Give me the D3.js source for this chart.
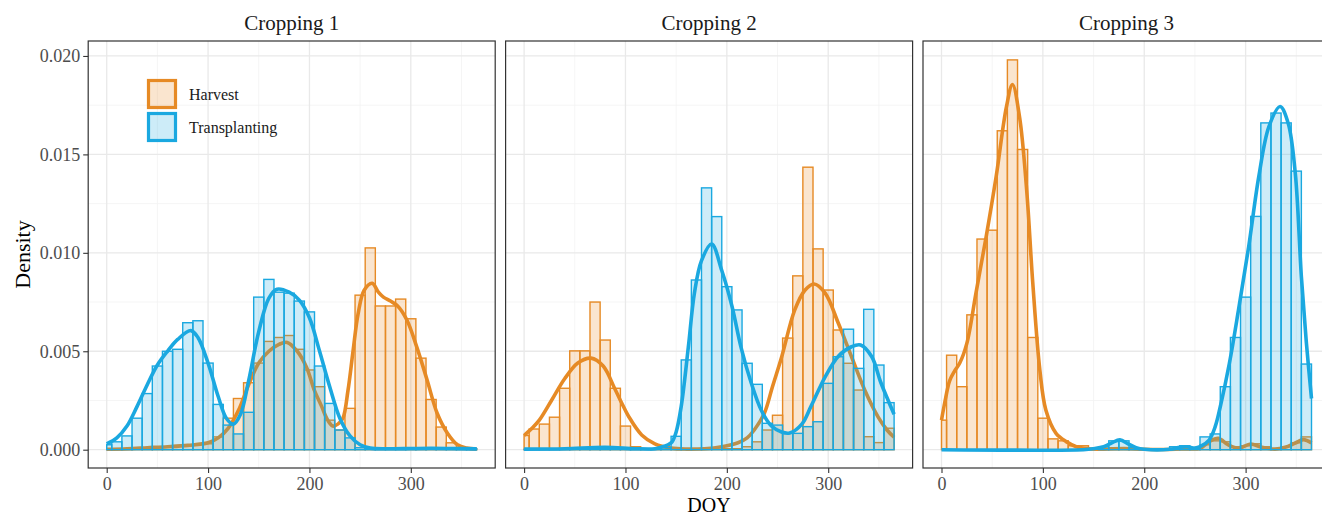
<!DOCTYPE html>
<html>
<head>
<meta charset="utf-8">
<script src="https://cdn.jsdelivr.net/npm/d3@7"></script>
<style>
  body { margin: 0; background: #fff; }
  svg { display: block; font-family: "Liberation Serif", "DejaVu Serif", serif; }
</style>
</head>
<body>
<div id="chart"></div>
<script>
/* DATA */

const panels = ["Cropping 1", "Cropping 2", "Cropping 3"];
const seriesNames = ["Harvest", "Transplanting"];
const xTicks = [0, 100, 200, 300];
const xMinor = [50, 150, 250, 350];
const yTicks = [0, 0.005, 0.010, 0.015, 0.020];
const yMinor = [0.0025, 0.0075, 0.0125, 0.0175];

// centre of each 10-day bin (first one is cut at 0, last at 365)
const binMid = [0, 10, 20, 30, 40, 50, 60, 70, 80, 90, 100, 110, 120, 130, 140, 150, 160, 170, 180,
                190, 200, 210, 220, 230, 240, 250, 260, 270, 280, 290, 300, 310, 320, 330, 340, 350, 360];

// histogram densities, one per bin
const harvest1 = [0.00002, 0.00005, 0.00005, 0.0001, 0.0001, 0.00015, 0.00015, 0.0002, 0.0002, 0.0003,
                  0.0003, 0.00065, 0.0016, 0.0026, 0.0034, 0.0044, 0.0055, 0.0057, 0.0058, 0.0051,
                  0.00405, 0.0032, 0.0015, 0.001, 0.0021, 0.00785, 0.01025, 0.0073, 0.0073, 0.00765,
                  0.00665, 0.00465, 0.00255, 0.00115, 0.00035, 0.0001, 0.00005];
const transplant1 = [0.00025, 0.0004, 0.0007, 0.0016, 0.00285, 0.00425, 0.005, 0.0051, 0.00645, 0.00655,
                     0.0044, 0.0023, 0.00125, 0.0008, 0.0019, 0.00775, 0.00865, 0.008, 0.00795, 0.00755,
                     0.007, 0.00425, 0.00235, 0.001, 0.0006, 0.0001, 0.00005, 0.00005, 0.00005, 0.00005,
                     0.00005, 0.00005, 0.00005, 0.00005, 0.00005, 0.00005, 0.00005];
const harvest2 = [0.00072, 0.00105, 0.0013, 0.00165, 0.00312, 0.00502, 0.00502, 0.0075, 0.00557, 0.00312,
                  0.0012, 0.00015, 0.00005, 0.00005, 0.00002, 0.00002, 0.00002, 0.00002, 0.00002, 0.00002,
                  0.00005, 0.00005, 0.00015, 0.0004, 0.001, 0.00175, 0.00567, 0.00883, 0.01435, 0.0102,
                  0.00811, 0.00608, 0.00439, 0.00303, 0.00066, 0.00036, 0.00109];
const transplant2 = [0.00002, 0.00002, 0.00002, 0.00002, 0.00002, 0.00005, 0.00005, 0.0001, 0.0001, 0.00005,
                     0.00005, 0.00002, 0.00002, 0.00005, 0.0001, 0.00068, 0.00456, 0.00862, 0.0133, 0.01184,
                     0.00828, 0.0071, 0.00439, 0.00332, 0.00134, 0.00125, 0.00083, 0.00083, 0.00117, 0.00142,
                     0.00337, 0.00472, 0.00612, 0.00413, 0.00713, 0.0043, 0.00239];
const harvest3 = [0.0015, 0.0048, 0.0032, 0.00685, 0.0107, 0.01115, 0.0162, 0.0198, 0.01525, 0.0057,
                  0.0016, 0.00055, 0.00045, 0.0002, 0.0002, 0.00002, 0.00005, 0.0001, 0.0001, 0.00002,
                  0, 0, 0, 0.00005, 0.00005, 0.00002, 0.00025, 0.00045, 0.0004, 0.00015,
                  0.0002, 0.0003, 0.00015, 0.00005, 0.00015, 0.00035, 0.00065];
const transplant3 = [0, 0, 0, 0, 0, 0, 0, 0, 0, 0,
                     0, 0, 0, 0, 0, 0, 0.00015, 0.00045, 0.00045, 0.0001,
                     0, 0, 0.00005, 0.00015, 0.0002, 0.0001, 0.00065, 0.0008, 0.0032, 0.0057,
                     0.00775, 0.01185, 0.0166, 0.0171, 0.0166, 0.01415, 0.00435];

// density curves: [DOY, density]
const harvestCurve1 = [[0, 0.00002], [20, 0.00005], [40, 0.0001], [60, 0.00015], [80, 0.00022], [100, 0.00035],
  [110, 0.0006], [120, 0.0011], [130, 0.002], [140, 0.0033], [150, 0.0044], [160, 0.005], [170, 0.00535],
  [178, 0.00545], [188, 0.005], [197, 0.0042], [205, 0.003], [212, 0.0022], [218, 0.0015], [223, 0.0012],
  [228, 0.0013], [233, 0.0016], [238, 0.003], [243, 0.005], [248, 0.0069], [254, 0.0081], [262, 0.00845],
  [268, 0.008], [273, 0.00775], [280, 0.00755], [287, 0.0073], [296, 0.0066], [306, 0.0052], [316, 0.00355],
  [326, 0.00185], [336, 0.00085], [346, 0.00025], [355, 0.00008], [365, 0.00003]];
const transplantCurve1 = [[0, 0.0003], [10, 0.0006], [20, 0.0012], [30, 0.0022], [40, 0.0033], [50, 0.0043],
  [60, 0.005], [70, 0.0056], [83, 0.00605], [90, 0.0057], [100, 0.0044], [110, 0.0027], [118, 0.0016],
  [125, 0.0013], [132, 0.0018], [140, 0.0035], [150, 0.006], [160, 0.0077], [168, 0.00815], [180, 0.008],
  [190, 0.0076], [200, 0.0067], [210, 0.005], [220, 0.0032], [230, 0.0016], [240, 0.0007], [250, 0.00025],
  [260, 0.00008], [280, 0.00005], [300, 0.00006], [320, 0.00007], [340, 0.00006], [365, 0.00004]];
const harvestCurve2 = [[0, 0.00072], [8, 0.0011], [15, 0.0015], [27, 0.0025], [40, 0.0036], [53, 0.0044],
  [66, 0.00465], [78, 0.00425], [89, 0.00315], [96, 0.0024], [103, 0.0017], [116, 0.00075], [129, 0.0003],
  [145, 0.00008], [160, 0.00003], [178, 0.00005], [195, 0.00015], [211, 0.00035], [220, 0.0006], [227, 0.001],
  [237, 0.00185], [245, 0.0032], [254, 0.0047], [267, 0.0071], [277, 0.0081], [286, 0.00842], [297, 0.00795],
  [310, 0.00642], [323, 0.00472], [336, 0.00303], [349, 0.00168], [358, 0.001], [365, 0.00063]];
const transplantCurve2 = [[0, 0.00003], [40, 0.00005], [80, 0.00012], [110, 0.00005], [129, 0.00005],
  [135, 0.00012], [142, 0.00025], [146, 0.0004], [150, 0.0009], [155, 0.0022], [162, 0.0052], [168, 0.00795],
  [175, 0.0096], [185, 0.01045], [195, 0.0091], [205, 0.0073], [214, 0.0052], [224, 0.0034], [234, 0.002],
  [244, 0.0012], [254, 0.0009], [262, 0.00085], [274, 0.0013], [283, 0.0022], [297, 0.0037], [310, 0.00475],
  [323, 0.00523], [332, 0.00532], [343, 0.00472], [352, 0.0034], [365, 0.0018]];
const harvestCurve3 = [[0, 0.0015], [4, 0.0026], [8, 0.0035], [13, 0.004], [18, 0.0044], [25, 0.0054],
  [34, 0.00795], [44, 0.0108], [54, 0.0139], [64, 0.0174], [70, 0.01855], [77, 0.0169], [84, 0.0132],
  [90, 0.0085], [97, 0.00405], [103, 0.002], [113, 0.00083], [123, 0.00041], [133, 0.00015], [145, 0.00005],
  [160, 0.00003], [180, 0.00006], [200, 0.00002], [220, 0.00001], [240, 0.00004], [255, 0.00007],
  [264, 0.00041], [273, 0.00058], [283, 0.00024], [293, 0.00007], [305, 0.00029], [316, 0.00012],
  [329, 0.00003], [339, 0.00012], [349, 0.00034], [357, 0.00051], [365, 0.00034]];
const transplantCurve3 = [[0, 0], [140, 0], [150, 0.00005], [160, 0.00015], [168, 0.00035], [176, 0.0005],
  [184, 0.0003], [192, 0.0001], [200, 0.00002], [225, 0.00002], [235, 0.00012], [242, 0.00015], [250, 0.00008],
  [255, 0.00015], [264, 0.00049], [270, 0.00117], [275, 0.00218], [284, 0.00439], [293, 0.0071], [303, 0.0103],
  [313, 0.01387], [323, 0.01641], [334, 0.01743], [342, 0.01658], [349, 0.01404], [355, 0.00879], [360, 0.0054],
  [365, 0.0026]];

const harvestBins = [harvest1, harvest2, harvest3];
const transplantBins = [transplant1, transplant2, transplant3];
const harvestCurves = [harvestCurve1, harvestCurve2, harvestCurve3];
const transplantCurves = [transplantCurve1, transplantCurve2, transplantCurve3];

/* CHART */

const width = 1322;
const height = 516;
const colors = { Harvest: "#E68A25", Transplanting: "#1AA8E0" };
const fillOpacity = 0.22;

const panelTop = 41, panelBottom = 468, panelW = 407, firstLeft = 88.2, step = 417.4;

const svg = d3.select("#chart")
    .append("svg")
    .attr("width", width)
    .attr("height", height);

const y = d3.scaleLinear()
    .domain([-0.00093, 0.02076])
    .range([panelBottom, panelTop]);

panels.forEach((name, i) => {
    const left = firstLeft + i * step;
    const x = d3.scaleLinear()
        .domain([-18.25, 383.25])
        .range([left, left + panelW]);

    const g = svg.append("g").attr("class", "panel");

    // grade menor e maior
    g.selectAll(".gx-minor").data(xMinor).join("line")
        .attr("x1", d => x(d)).attr("x2", d => x(d))
        .attr("y1", panelTop).attr("y2", panelBottom)
        .attr("stroke", "#f2f2f2").attr("stroke-width", 0.8);
    g.selectAll(".gy-minor").data(yMinor).join("line")
        .attr("x1", left).attr("x2", left + panelW)
        .attr("y1", d => y(d)).attr("y2", d => y(d))
        .attr("stroke", "#f2f2f2").attr("stroke-width", 0.8);
    g.selectAll(".gx").data(xTicks).join("line")
        .attr("x1", d => x(d)).attr("x2", d => x(d))
        .attr("y1", panelTop).attr("y2", panelBottom)
        .attr("stroke", "#e9e9e9").attr("stroke-width", 1.3);
    g.selectAll(".gy").data(yTicks).join("line")
        .attr("x1", left).attr("x2", left + panelW)
        .attr("y1", d => y(d)).attr("y2", d => y(d))
        .attr("stroke", "#e9e9e9").attr("stroke-width", 1.3);

    const line = d3.line()
        .x(d => x(d[0]))
        .y(d => y(d[1]))
        .curve(d3.curveCatmullRom.alpha(0.5));

    const layers = [
        { key: "Harvest", bins: harvestBins[i], curve: harvestCurves[i] },
        { key: "Transplanting", bins: transplantBins[i], curve: transplantCurves[i] }
    ];

    layers.forEach(layer => {
        const bars = binMid.map((m, k) => ({
            x0: Math.max(0, m - 5),
            x1: Math.min(365, m + 5),
            value: layer.bins[k]
        }));

        g.append("g").selectAll("rect")
            .data(bars)
            .join("rect")
            .attr("x", d => x(d.x0))
            .attr("y", d => y(d.value))
            .attr("width", d => x(d.x1) - x(d.x0))
            .attr("height", d => y(0) - y(d.value))
            .attr("fill", colors[layer.key])
            .attr("fill-opacity", fillOpacity)
            .attr("stroke", colors[layer.key])
            .attr("stroke-width", 1.4);

        g.append("path")
            .datum(layer.curve)
            .attr("d", line)
            .attr("fill", "none")
            .attr("stroke", colors[layer.key])
            .attr("stroke-width", 3.6)
            .attr("stroke-linejoin", "round");
    });

    // borda do painel
    g.append("rect")
        .attr("x", left).attr("y", panelTop)
        .attr("width", panelW).attr("height", panelBottom - panelTop)
        .attr("fill", "none")
        .attr("stroke", "#333333")
        .attr("stroke-width", 1.2);

    // eixo X
    const xAxis = svg.append("g")
        .attr("transform", `translate(0,${panelBottom})`)
        .call(d3.axisBottom(x).tickValues(xTicks).tickSize(5).tickPadding(4).tickFormat(d3.format("d")));
    xAxis.select(".domain").remove();
    xAxis.selectAll("line").attr("stroke", "#333333").attr("stroke-width", 1.1);
    xAxis.selectAll("text")
        .attr("fill", "#4d4d4d")
        .style("font-size", "18px")
        .style("font-family", "'Liberation Serif', serif");

    // titulo do painel
    svg.append("text")
        .attr("x", left + panelW / 2)
        .attr("y", 30)
        .attr("text-anchor", "middle")
        .attr("fill", "#1a1a1a")
        .style("font-size", "21px")
        .text(name);

    if (i === 0) {
        const yAxis = svg.append("g")
            .attr("transform", `translate(${left},0)`)
            .call(d3.axisLeft(y).tickValues(yTicks).tickSize(5).tickPadding(3).tickFormat(d3.format(".3f")));
        yAxis.select(".domain").remove();
        yAxis.selectAll("line").attr("stroke", "#333333").attr("stroke-width", 1.1);
        yAxis.selectAll("text")
            .attr("fill", "#4d4d4d")
            .style("font-size", "18px")
            .style("font-family", "'Liberation Serif', serif");

        // legenda
        const legend = svg.append("g").attr("class", "legend");
        seriesNames.forEach((s, k) => {
            const ly = 80.5 + k * 33;
            legend.append("rect")
                .attr("x", 148.5).attr("y", ly)
                .attr("width", 27).attr("height", 27)
                .attr("fill", colors[s]).attr("fill-opacity", fillOpacity)
                .attr("stroke", colors[s]).attr("stroke-width", 3.2);
            legend.append("text")
                .attr("x", 189).attr("y", ly + 13.5)
                .attr("dy", "0.35em")
                .attr("fill", "#1a1a1a")
                .style("font-size", "16px")
                .text(s);
        });
    }
});

// titulos dos eixos
svg.append("text")
    .attr("x", 709)
    .attr("y", 511.5)
    .attr("text-anchor", "middle")
    .attr("fill", "#000")
    .style("font-size", "20px")
    .text("DOY");

svg.append("text")
    .attr("transform", "translate(30,254.5) rotate(-90)")
    .attr("text-anchor", "middle")
    .attr("fill", "#000")
    .style("font-size", "22px")
    .text("Density");
</script>
</body>
</html>
